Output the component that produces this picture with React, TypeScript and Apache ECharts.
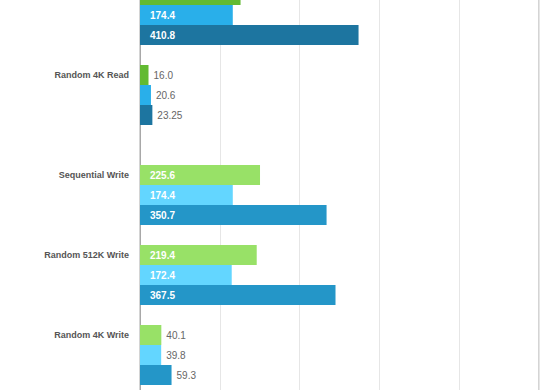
import React, { useEffect, useRef } from "react";
import * as echarts from "echarts";

// ---- data ----
const categories = [
  "Random 512K Read",
  "Random 4K Read",
  "Sequential Write",
  "Random 512K Write",
  "Random 4K Write",
];
const kinds = ["read", "read", "write", "write", "write"];
const seriesNames = ["Drive A", "Drive B", "Drive C"];
const valuesA = [189, 16.0, 225.6, 219.4, 40.1];
const valuesB = [174.4, 20.6, 174.4, 172.4, 39.8];
const valuesC = [410.8, 23.25, 350.7, 367.5, 59.3];
const axisMin = 0;
const axisMax = 750;
const axisInterval = 150;

const readColors = ["#62ba32", "#29afea", "#1d75a0"];
const writeColors = ["#98e167", "#63d6ff", "#2496c8"];

type Row = { cat: number; s: number } | null;

function buildRows(): Row[] {
  const rows: Row[] = [];
  categories.forEach((_, i) => {
    if (i > 0 && kinds[i] !== kinds[i - 1]) rows.push(null);
    for (let s = 0; s < 3; s++) rows.push({ cat: i, s });
    rows.push(null);
  });
  return rows;
}

const fmt = (v: number) => (Number.isInteger(v) ? v.toFixed(1) : String(v));

export default function App() {
  const ref = useRef<HTMLDivElement>(null);

  useEffect(() => {
    if (!ref.current) return;
    const chart = echarts.init(ref.current, undefined, { renderer: "svg" });
    const rows = buildRows();
    const allValues = [valuesA, valuesB, valuesC];
    const yData = rows.map((r, i) =>
      r ? `${categories[r.cat]}#${r.s}` : `gap${i}`
    );
    // the first row lies above the visible window (cropped, as in the reference)
    const hiddenRow = 0;

    const series = allValues.map((vals, k) => ({
      name: seriesNames[k],
      type: "bar",
      barWidth: 20,
      barGap: "-100%",
      data: rows.map((r, ri) => {
        if (!r || r.s !== k) return "-";
        const v = vals[r.cat];
        const colors = kinds[r.cat] === "read" ? readColors : writeColors;
        const inside = v >= 100;
        return {
          value: v,
          itemStyle: { color: colors[k] },
          label: inside
            ? {
                show: ri !== hiddenRow,
                position: "insideLeft",
                distance: 10,
                color: "#ffffff",
                fontWeight: "bold",
                fontSize: 10,
                fontFamily: "Liberation Sans, Arial, sans-serif",
                formatter: () => fmt(v),
              }
            : {
                show: ri !== hiddenRow,
                position: "right",
                distance: 5,
                color: "#666666",
                fontSize: 10,
                fontFamily: "Liberation Sans, Arial, sans-serif",
                formatter: () => fmt(v),
              },
        };
      }),
    }));

    chart.setOption({
      animation: false,
      grid: {
        left: 140,
        right: 21,
        top: 0,
        bottom: 0,
        show: true,
        borderColor: "#a8a8a8",
        borderWidth: 1,
        backgroundColor: "transparent",
      },
      xAxis: {
        type: "value",
        min: axisMin,
        max: axisMax,
        interval: axisInterval,
        axisLabel: { show: false },
        axisLine: { show: false },
        axisTick: { show: false },
        splitLine: { show: true, lineStyle: { color: "#e6e6e6", width: 1 } },
      },
      yAxis: {
        type: "category",
        inverse: true,
        data: yData,
        axisLine: { show: true, lineStyle: { color: "#a8a8a8" } },
        axisTick: { show: false },
        splitLine: { show: false },
        axisLabel: {
          interval: 0,
          margin: 11,
          color: "#555555",
          fontSize: 9,
          fontWeight: "bold",
          fontFamily: "Liberation Sans, Arial, sans-serif",
          formatter: (_v: string, idx: number) => {
            const r = rows[idx];
            if (idx === hiddenRow) return "";
            return r && r.s === 0 ? categories[r.cat] : "";
          },
        },
      },
      series,
    });

    return () => chart.dispose();
  }, []);

  return (
    <div
      style={{
        position: "fixed",
        left: 0,
        top: 0,
        width: 560,
        height: 390,
        overflow: "hidden",
        background: "#ffffff",
      }}
    >
      <div
        ref={ref}
        style={{ position: "absolute", left: 0, top: -15, width: 560, height: 420 }}
      />
    </div>
  );
}
